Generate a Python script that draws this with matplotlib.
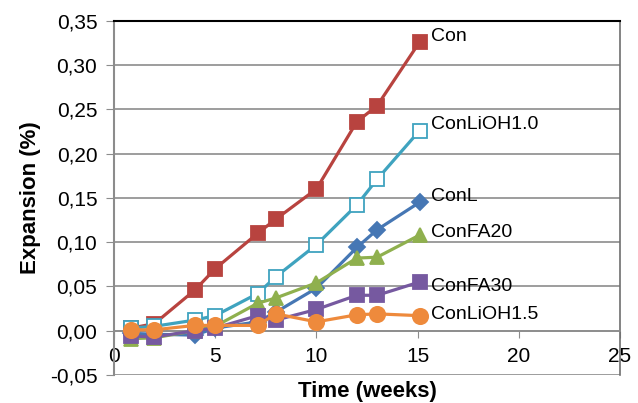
import matplotlib.pyplot as plt
from matplotlib.ticker import FuncFormatter

# data
weeks = [0.86, 2, 4, 5, 7.1, 8, 10, 12, 13, 15.1]
con = [0.003, 0.008, 0.046, 0.070, 0.110, 0.126, 0.160, 0.236, 0.254, 0.326]
con_lioh10 = [0.003, 0.005, 0.012, 0.017, 0.042, 0.061, 0.097, 0.142, 0.171, 0.226]
con_l = [-0.003, -0.004, -0.005, 0.003, 0.010, 0.021, 0.048, 0.094, 0.114, 0.145]
con_fa20 = [-0.009, -0.008, 0.000, 0.005, 0.031, 0.037, 0.054, 0.082, 0.083, 0.108]
con_fa30 = [-0.006, -0.007, 0.000, 0.003, 0.017, 0.012, 0.024, 0.040, 0.040, 0.055]
con_lioh15 = [0.001, 0.001, 0.006, 0.006, 0.006, 0.019, 0.010, 0.018, 0.019, 0.017]

names = ['Con', 'ConLiOH1.0', 'ConL', 'ConFA20', 'ConFA30', 'ConLiOH1.5']
series = [con, con_lioh10, con_l, con_fa20, con_fa30, con_lioh15]
cores = ['#B8433F', '#3FA3BF', '#4677B4', '#8FB04E', '#7659A0', '#EE8A3C']
marcadores = ['s', 's', 'D', '^', 's', 'o']
tamanhos = [9.5, 9.5, 8, 10, 9.5, 11]
desloc = [4, 4, 4, 2, -3, 1]  # deslocamento vertical dos rotulos (pt)

plt.rcParams['font.family'] = ['Liberation Sans', 'DejaVu Sans']

fig = plt.figure(figsize=(6.38, 4.03), dpi=100)
ax = fig.add_axes([0.1787, 0.0695, 0.7931, 0.8791])

for i in range(len(names)):
    face = 'white' if names[i] == 'ConLiOH1.0' else cores[i]
    ax.plot(weeks, series[i], color=cores[i], lw=2.3, marker=marcadores[i],
            ms=tamanhos[i], mfc=face, mec=cores[i], mew=1.3, zorder=3 + i)
    ax.annotate(names[i], (weeks[-1], series[i][-1]), xytext=(8.5, desloc[i]),
                textcoords='offset points', va='center', ha='left',
                fontsize=14, zorder=20)

ax.set_xlim(0, 25)
ax.set_ylim(-0.05, 0.35)
ax.set_xticks([0, 5, 10, 15, 20, 25])
ax.set_yticks([-0.05, 0, 0.05, 0.10, 0.15, 0.20, 0.25, 0.30, 0.35])
ax.yaxis.set_major_formatter(FuncFormatter(lambda v, p: ('%.2f' % v).replace('.', ',')))

ax.grid(axis='y', color='#8c8c8c', lw=1.2, zorder=0)
ax.set_axisbelow(True)

ax.spines['bottom'].set_position(('data', 0))
ax.spines['bottom'].set_color('#8c8c8c')
ax.spines['bottom'].set_linewidth(1.2)
ax.spines['left'].set_color('#8c8c8c')
ax.spines['left'].set_linewidth(1.5)
ax.spines['right'].set_color('#6e6e6e')
ax.spines['right'].set_linewidth(1.2)
ax.spines['top'].set_color('black')
ax.spines['top'].set_linewidth(1.5)

ax.tick_params(axis='y', direction='out', length=6, color='#8c8c8c', labelsize=15, pad=6)
ax.tick_params(axis='x', direction='out', length=5, color='#8c8c8c', labelsize=15, pad=7)

ax.set_ylabel('Expansion (%)', fontsize=16, fontweight='bold', labelpad=6)
ax.set_xlabel('Time (weeks)', fontsize=16, fontweight='bold')
ax.xaxis.set_label_coords(0.5, -0.018)

fig.savefig('out.png', dpi=100)
